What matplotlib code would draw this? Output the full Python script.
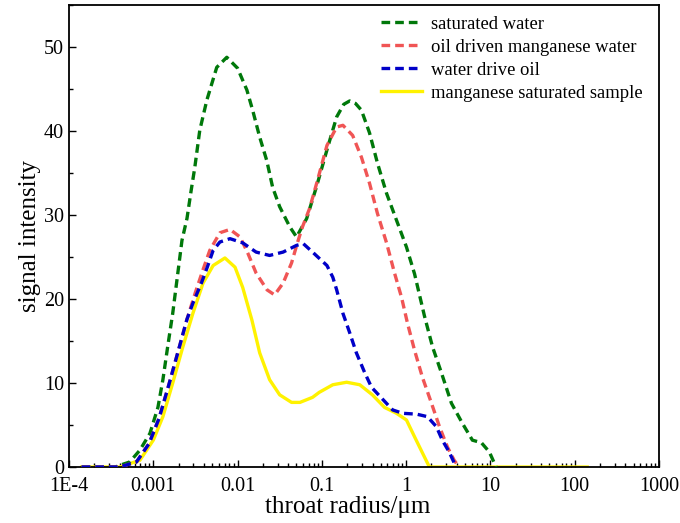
import numpy as np
import matplotlib
matplotlib.use('Agg')
import matplotlib.pyplot as plt
from matplotlib.ticker import FixedLocator, FixedFormatter, LogLocator, MultipleLocator, NullFormatter

plt.rcParams['font.family'] = ['Liberation Serif', 'DejaVu Serif']

# throat radius (um) / signal intensity
green_r = [1.41e-4, 3.55e-4, 3.98e-4, 5.25e-4, 6.92e-4, 9.12e-4, 1.135e-3, 1.30e-3, 1.48e-3,
           1.70e-3, 1.91e-3, 2.19e-3, 2.51e-3, 2.82e-3, 3.11e-3, 3.56e-3, 4.32e-3, 5.66e-3,
           7.45e-3, 0.0100, 0.0129, 0.0151, 0.0183, 0.0222, 0.0261, 0.0316, 0.0417, 0.0501,
           0.0661, 0.0871, 0.1175, 0.150, 0.182, 0.214, 0.251, 0.295, 0.368, 0.457, 0.586,
           0.769, 1.01, 1.26, 1.65, 2.06, 2.63, 3.45, 4.66, 6.12, 7.82, 9.72, 11.1, 11.7]
green_y = [0, 0, 0.2, 0.6, 2.0, 4.0, 7.1, 10.4, 14.3,
           18.3, 22.3, 27.0, 29.6, 33.0, 35.7, 40.1, 43.7, 47.6,
           48.8, 47.5, 44.9, 42.5, 39.3, 36.5, 33.3, 31.0, 28.6, 27.4,
           29.6, 33.5, 38.1, 41.7, 43.2, 43.6, 43.3, 42.5, 39.8, 36.2, 32.6,
           29.4, 26.2, 23.0, 18.0, 14.3, 11.2, 7.6, 5.2, 3.2, 2.9, 1.8, 0.5, 0]

red_r = [1.41e-4, 3.98e-4, 6.31e-4, 8.91e-4, 1.17e-3, 1.51e-3, 2.0e-3, 2.51e-3, 3.16e-3,
         3.89e-3, 4.68e-3, 6.17e-3, 8.13e-3, 0.0107, 0.0132, 0.0166, 0.0224, 0.0275,
         0.0347, 0.0437, 0.0513, 0.0589, 0.0716, 0.0891, 0.115, 0.150, 0.178, 0.232,
         0.295, 0.368, 0.457, 0.586, 0.729, 0.883, 1.04, 1.26, 1.56, 2.0, 2.49, 3.09,
         3.72, 4.27]
red_y = [0, 0, 0.6, 2.8, 5.8, 9.6, 14.0, 17.6, 20.8,
         23.5, 25.8, 27.9, 28.3, 27.4, 25.5, 23.1, 21.1, 20.5,
         21.9, 24.3, 26.7, 28.6, 30.8, 34.2, 38.3, 40.5, 40.7, 39.5,
         36.9, 33.8, 30.2, 26.7, 23.1, 20.2, 17.1, 13.9, 10.7, 7.6, 4.8, 2.4,
         0.8, 0]

blue_r = [1.41e-4, 3.98e-4, 6.31e-4, 8.91e-4, 1.17e-3, 1.51e-3, 2.0e-3, 2.51e-3, 2.95e-3,
          3.72e-3, 4.37e-3, 5.13e-3, 6.17e-3, 8.13e-3, 0.0115, 0.0166, 0.0240, 0.0347,
          0.0501, 0.0603, 0.0776, 0.115, 0.135, 0.150, 0.178, 0.214, 0.257, 0.324,
          0.389, 0.513, 0.692, 0.912, 1.33, 1.79, 2.29, 2.69, 3.24, 3.72, 3.98]
blue_y = [0, 0, 0.6, 2.8, 5.8, 9.6, 14.0, 17.6, 19.5,
          21.9, 23.8, 25.8, 26.8, 27.2, 26.7, 25.6, 25.2, 25.6,
          26.4, 26.6, 25.6, 24.0, 22.6, 21.1, 18.3, 16.0, 13.6, 11.2,
          9.5, 8.2, 6.8, 6.4, 6.3, 6.0, 4.8, 3.2, 1.8, 0.5, 0]

yellow_r = [1.41e-4, 3.98e-4, 6.92e-4, 1.0e-3, 1.30e-3, 1.70e-3, 2.24e-3, 2.95e-3, 3.89e-3,
            5.13e-3, 7.08e-3, 9.33e-3, 0.0115, 0.0148, 0.0183, 0.0240, 0.0316, 0.0437,
            0.0550, 0.0776, 0.0933, 0.135, 0.197, 0.282, 0.398, 0.555, 0.769, 1.01,
            1.26, 1.56, 1.89, 141]
yellow_y = [0, 0, 0.8, 3.2, 6.0, 10.0, 14.3, 18.3, 21.9,
            24.0, 24.9, 23.8, 21.4, 17.5, 13.6, 10.4, 8.6, 7.7,
            7.7, 8.3, 8.9, 9.8, 10.1, 9.8, 8.6, 7.1, 6.4, 5.6,
            3.6, 1.7, 0, 0]

x_ticks = [1e-4, 1e-3, 1e-2, 1e-1, 1, 10, 100, 1000]
x_labels = ['1E-4', '0.001', '0.01', '0.1', '1', '10', '100', '1000']

fig = plt.figure(figsize=(6.8, 5.23), dpi=100)
ax = fig.add_axes([0.1015, 0.107, 0.8675, 0.883])

dash = (2.6, 1.5)
ax.plot(yellow_r, yellow_y, color='#fff200', lw=2.4, label='manganese saturated sample', zorder=2)
ax.plot(green_r, green_y, color='#00780a', lw=2.4, ls=(0, dash), label='saturated water', zorder=3)
ax.plot(red_r, red_y, color='#f05555', lw=2.4, ls=(0, dash), label='oil driven manganese water', zorder=3)
ax.plot(blue_r, blue_y, color='#0000c8', lw=2.4, ls=(0, dash), label='water drive oil', zorder=3)

ax.set_xscale('log')
ax.set_xlim(1e-4, 1000)
ax.set_ylim(0, 55)
ax.xaxis.set_major_locator(FixedLocator(x_ticks))
ax.xaxis.set_major_formatter(FixedFormatter(x_labels))
ax.xaxis.set_minor_locator(LogLocator(base=10, subs=np.arange(2, 10)))
ax.xaxis.set_minor_formatter(NullFormatter())
ax.yaxis.set_major_locator(MultipleLocator(10))
ax.yaxis.set_minor_locator(MultipleLocator(5))

ax.tick_params(which='both', direction='in', top=False, right=False, labelsize=14.5, width=1.0)
ax.tick_params(axis='x', pad=7)
ax.tick_params(which='major', length=5)
ax.tick_params(which='minor', length=3)
for s in ax.spines.values():
    s.set_linewidth(1.3)

ax.set_xlabel('throat radius/μm', fontsize=18, labelpad=0, x=0.473)
ax.set_ylabel('signal intensity', fontsize=18, labelpad=2)

h, l = ax.get_legend_handles_labels()
order = [1, 2, 3, 0]
ax.legend([h[i] for i in order], [l[i] for i in order], loc='upper right', frameon=False,
          fontsize=13.4, handlelength=2.2, handletextpad=0.5, labelspacing=0.32,
          borderaxespad=0.0, bbox_to_anchor=(0.985, 0.993))

fig.savefig('out.png', dpi=100)
